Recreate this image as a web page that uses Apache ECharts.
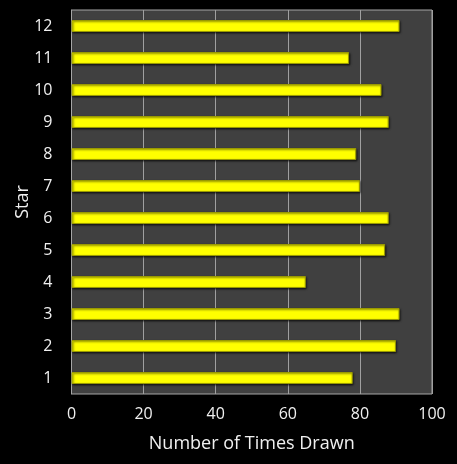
<!DOCTYPE html>
<html>
<head>
<meta charset="utf-8">
<script src="https://cdn.jsdelivr.net/npm/echarts@6/dist/echarts.min.js"></script>
<style>
html,body{margin:0;padding:0;background:#000;}
#c{width:457px;height:464px;}
</style>
</head>
<body>
<div id="c"></div>
<script>
const categories = ['1','2','3','4','5','6','7','8','9','10','11','12'];
const timesDrawn = [78, 90, 91, 65, 87, 88, 80, 79, 88, 86, 77, 91];
const xTicks = [0, 20, 40, 60, 80, 100];

const chart = echarts.init(document.getElementById('c'), null, {renderer:'canvas'});
const font = '"Open Sans", "DejaVu Sans", sans-serif';
chart.setOption({
  backgroundColor: '#000000',
  animation: false,
  grid: {left: 71.5, right: 25, top: 10, bottom: 70, show: true, backgroundColor: '#404040', borderColor: '#a6a6a6', borderWidth: 1},
  xAxis: {
    type: 'value', min: xTicks[0], max: xTicks[xTicks.length-1], interval: 20,
    name: 'Number of Times Drawn', nameLocation: 'middle', nameGap: 41, nameMoveOverlap: false,
    nameTextStyle: {color: '#f0f0f0', fontSize: 18, fontFamily: font},
    axisLine: {show: false}, axisTick: {show: false},
    axisLabel: {color: '#f0f0f0', fontSize: 16, fontFamily: font, margin: 12},
    splitLine: {show: true, lineStyle: {color: '#a0a0a0', width: 1}}
  },
  yAxis: {
    type: 'category', data: categories,
    name: 'Star', nameLocation: 'middle', nameGap: 39.5, nameRotate: 90, nameMoveOverlap: false,
    nameTextStyle: {color: '#f0f0f0', fontSize: 18, fontFamily: font},
    axisLine: {show: true, lineStyle: {color: '#a6a6a6'}}, axisTick: {show: false},
    axisLabel: {color: '#f0f0f0', fontSize: 16, fontFamily: font, margin: 19},
    splitLine: {show: false}
  },
  series: [{
    type: 'bar', data: timesDrawn, barWidth: 12,
    itemStyle: {color: '#ffff00', borderColor: '#9a9a00', borderWidth: 1,
      shadowColor: 'rgba(0,0,0,0.6)', shadowOffsetX: 1, shadowOffsetY: 1, shadowBlur: 2}
  }]
});
</script>
</body>
</html>
